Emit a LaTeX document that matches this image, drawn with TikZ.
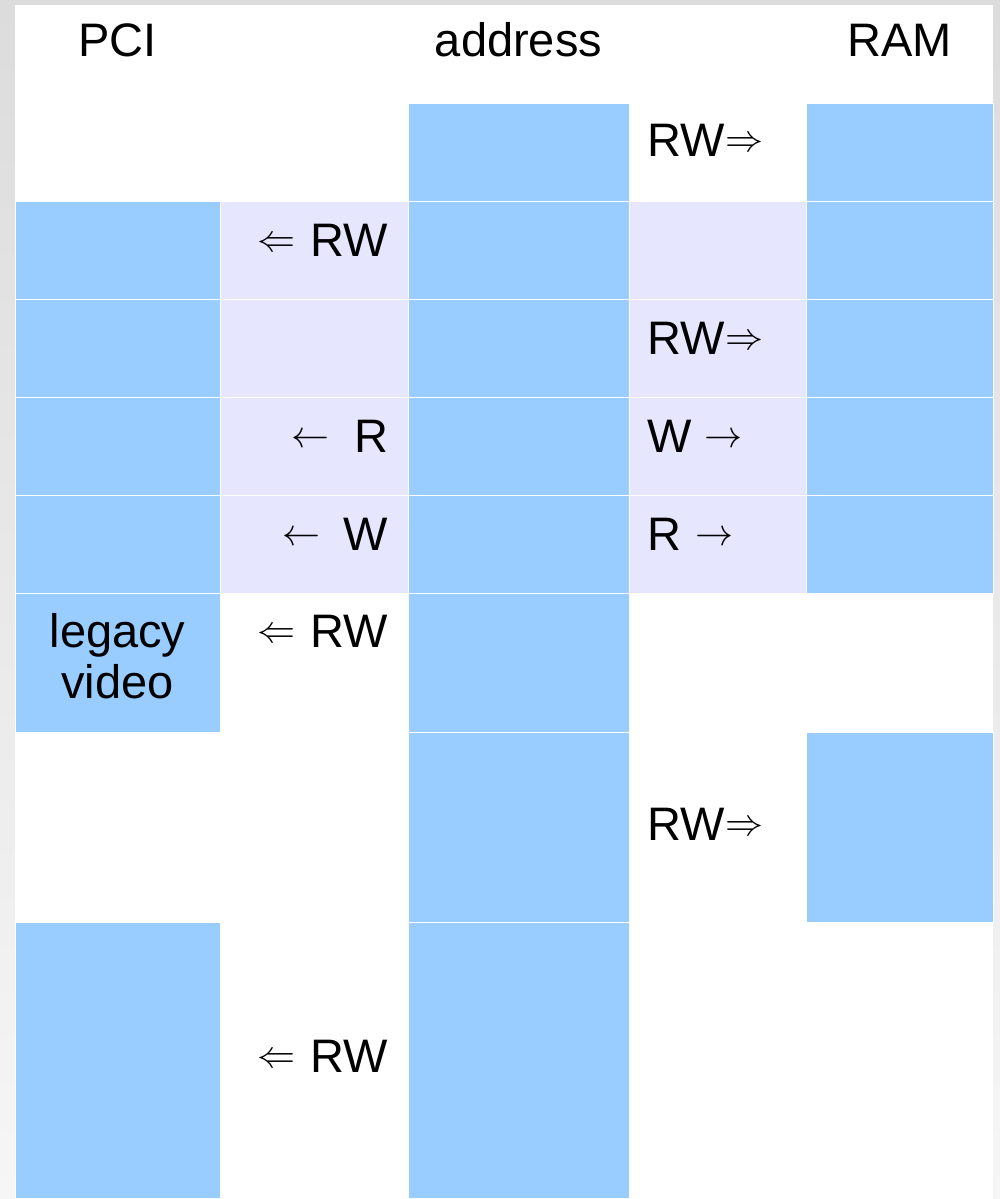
\documentclass[tikz,border=0pt]{standalone}
\usepackage{fontspec}
\setmainfont{Liberation Sans}
\usepackage{graphicx}
\definecolor{cellblue}{HTML}{99CCFF}
\definecolor{celllav}{HTML}{E6E6FF}
\definecolor{bgtop}{HTML}{DCDCDC}
\definecolor{bgbot}{HTML}{F6F6F6}
\newcommand\myarr[1]{\raisebox{5pt}{\scalebox{3.8}{\fontsize{10}{12}\selectfont$#1$}}}
\begin{document}
\begin{tikzpicture}[x=1pt,y=-1pt,
  blue cell/.style={fill=cellblue,draw=white,line width=1pt},
  lav cell/.style={fill=celllav,draw=white,line width=1pt},
  lbl/.style={inner sep=0pt,font=\fontsize{47}{52}\selectfont},
  lblL/.style={lbl,anchor=base west},
  lblR/.style={lbl,anchor=base east},
  lblC/.style={lbl,anchor=base}]
\useasboundingbox (0,0) rectangle (1000,1199);
\shade[top color=bgtop,bottom color=bgbot] (0,0) rectangle (1000,1199);
\fill[white] (15,5) rectangle (993,1199);
% columns: 15 220 408 629 806 993
% rows: 5 103 201 299 397 495 593 732 922 1198
% row 1
\path[blue cell] (408,103) rectangle (629,201);
\path[blue cell] (806,103) rectangle (993,201);
% rows 2-5
\foreach \ya/\yb in {201/299,299/397,397/495,495/593}{
  \path[blue cell] (15,\ya) rectangle (220,\yb);
  \path[lav cell] (220,\ya) rectangle (408,\yb);
  \path[blue cell] (408,\ya) rectangle (629,\yb);
  \path[lav cell] (629,\ya) rectangle (806,\yb);
  \path[blue cell] (806,\ya) rectangle (993,\yb);
}
% row 6
\path[blue cell] (15,593) rectangle (220,732);
\path[blue cell] (408,593) rectangle (629,732);
% row 7
\path[blue cell] (408,732) rectangle (629,922);
\path[blue cell] (806,732) rectangle (993,922);
% row 8
\path[blue cell] (15,922) rectangle (220,1198);
\path[blue cell] (408,922) rectangle (629,1198);
% header
\node[lblC] (pci) at (117.5,57) {PCI};
\node[lblC] (addr) at (518.5,57) {address};
\node[lblC] (ram) at (899.5,57) {RAM};
% labels
\node[lblL] (r1) at (647.5,156) {RW\myarr{\Rightarrow}};
\node[lblR] (l2) at (388.5,256) {\myarr{\Leftarrow}\hspace{15pt}RW};
\node[lblL] (r3) at (647.5,354) {RW\myarr{\Rightarrow}};
\node[lblR] (l4) at (388.5,452) {\myarr{\leftarrow}\hspace{25pt}R};
\node[lblL] (r4) at (647.5,452) {W\hspace{12pt}\myarr{\rightarrow}};
\node[lblR] (l5) at (388.5,550) {\myarr{\leftarrow}\hspace{23pt}W};
\node[lblL] (r5) at (647.5,550) {R\hspace{14pt}\myarr{\rightarrow}};
\node[lblC] (lv1) at (117.5,647) {legacy};
\node[lblC] (lv2) at (117.5,698) {video};
\node[lblR] (l6) at (388.5,647) {\myarr{\Leftarrow}\hspace{15pt}RW};
\node[lblL] (r7) at (647.5,840) {RW\myarr{\Rightarrow}};
\node[lblR] (l8) at (388.5,1072) {\myarr{\Leftarrow}\hspace{15pt}RW};
\end{tikzpicture}
\end{document}
